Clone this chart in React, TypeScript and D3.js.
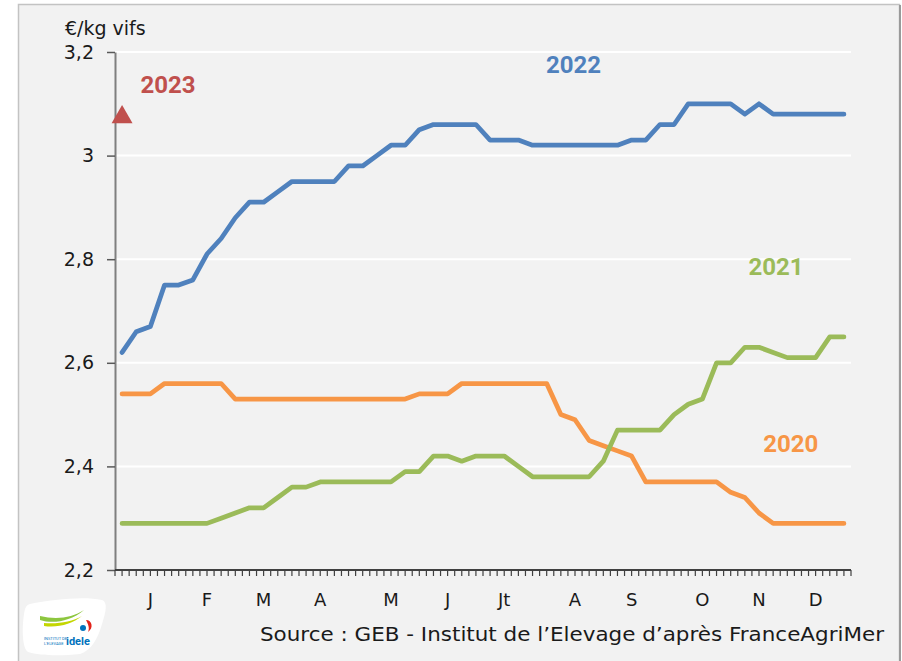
import { useRef, useEffect } from 'react';
import * as d3 from 'd3';

// weekly categories (weeks of the year)
const weeks = d3.range(1, 53);

const prices2022 = [
    2.62, 2.66, 2.67, 2.75, 2.75, 2.76, 2.81, 2.84, 2.88, 2.91,
    2.91, 2.93, 2.95, 2.95, 2.95, 2.95, 2.98, 2.98, 3.00, 3.02,
    3.02, 3.05, 3.06, 3.06, 3.06, 3.06, 3.03, 3.03, 3.03, 3.02,
    3.02, 3.02, 3.02, 3.02, 3.02, 3.02, 3.03, 3.03, 3.06, 3.06,
    3.10, 3.10, 3.10, 3.10, 3.08, 3.10, 3.08, 3.08, 3.08, 3.08,
    3.08, 3.08
];

const prices2021 = [
    2.29, 2.29, 2.29, 2.29, 2.29, 2.29, 2.29, 2.30, 2.31, 2.32,
    2.32, 2.34, 2.36, 2.36, 2.37, 2.37, 2.37, 2.37, 2.37, 2.37,
    2.39, 2.39, 2.42, 2.42, 2.41, 2.42, 2.42, 2.42, 2.40, 2.38,
    2.38, 2.38, 2.38, 2.38, 2.41, 2.47, 2.47, 2.47, 2.47, 2.50,
    2.52, 2.53, 2.60, 2.60, 2.63, 2.63, 2.62, 2.61, 2.61, 2.61,
    2.65, 2.65
];

const prices2020 = [
    2.54, 2.54, 2.54, 2.56, 2.56, 2.56, 2.56, 2.56, 2.53, 2.53,
    2.53, 2.53, 2.53, 2.53, 2.53, 2.53, 2.53, 2.53, 2.53, 2.53,
    2.53, 2.54, 2.54, 2.54, 2.56, 2.56, 2.56, 2.56, 2.56, 2.56,
    2.56, 2.50, 2.49, 2.45, 2.44, 2.43, 2.42, 2.37, 2.37, 2.37,
    2.37, 2.37, 2.37, 2.35, 2.34, 2.31, 2.29, 2.29, 2.29, 2.29,
    2.29, 2.29
];

const prices2023 = [3.08];

const monthLabels = ['J', 'F', 'M', 'A', 'M', 'J', 'Jt', 'A', 'S', 'O', 'N', 'D'];
const monthWeeks = [3, 7, 11, 15, 20, 24, 28, 33, 37, 42, 46, 50];

const yTicks = [2.2, 2.4, 2.6, 2.8, 3.0, 3.2];

const W = 902;
const H = 661;
const margin = { top: 52, right: 51, bottom: 91, left: 115 };
const width = W - margin.left - margin.right;
const height = H - margin.top - margin.bottom;

const FONT = '"DejaVu Sans", sans-serif';
const BOLD = 'Roboto, "Liberation Sans", sans-serif';

const App = () => {
    const ref = useRef<SVGSVGElement | null>(null);

    useEffect(() => {
        if (!ref.current) return;
        const root = d3.select(ref.current);
        root.selectAll('*').remove();

        // frame
        root.append('rect')
            .attr('x', 18.5).attr('y', 4.5)
            .attr('width', 881).attr('height', 700)
            .attr('fill', '#F2F2F2')
            .attr('stroke', '#C3C3C3')
            .attr('stroke-width', 1.5);
        root.append('line')
            .attr('x1', 900).attr('x2', 900).attr('y1', 5).attr('y2', H)
            .attr('stroke', '#9A9A9A').attr('stroke-width', 2);

        const svg = root.append('g')
            .attr('transform', `translate(${margin.left}, ${margin.top})`);

        const x = d3.scaleBand<number>().domain(weeks).range([0, width]).padding(0);
        const xc = (w: number) => (x(w) as number) + x.bandwidth() / 2;
        const y = d3.scaleLinear().domain([2.2, 3.2]).range([height, 0]);

        // grid
        svg.append('g')
            .selectAll('line')
            .data(yTicks.filter(t => t > 2.2))
            .enter().append('line')
            .attr('x1', 0).attr('x2', width)
            .attr('y1', d => y(d)).attr('y2', d => y(d))
            .attr('stroke', '#FFFFFF').attr('stroke-width', 2);

        // y axis (excel "general" format, comma decimal)
        const yAxis = d3.axisLeft(y)
            .tickValues(yTicks)
            .tickSize(8)
            .tickSizeOuter(0)
            .tickPadding(13)
            .tickFormat(d => String(+(d as number).toFixed(1)).replace('.', ','));
        const yg = svg.append('g').call(yAxis);
        yg.select('.domain').attr('stroke', '#7F7F7F').attr('stroke-width', 2);
        yg.selectAll('.tick line').attr('stroke', '#595959').attr('stroke-width', 1.5);
        yg.selectAll('.tick text')
            .attr('fill', '#1A1A1A')
            .style('font-family', FONT)
            .style('font-size', '19px');

        // x axis
        const xg = svg.append('g').attr('transform', `translate(0, ${height})`);
        const tickPos: number[] = [];
        weeks.forEach(w => {
            tickPos.push(x(w) as number);
            tickPos.push(xc(w));
        });
        tickPos.push(width);
        xg.selectAll('line.tk')
            .data(tickPos)
            .enter().append('line')
            .attr('class', 'tk')
            .attr('x1', d => d).attr('x2', d => d)
            .attr('y1', 0).attr('y2', 6)
            .attr('stroke', '#404040').attr('stroke-width', 1.2);
        xg.append('line')
            .attr('x1', 0).attr('x2', width)
            .attr('y1', 0).attr('y2', 0)
            .attr('stroke', '#404040').attr('stroke-width', 1.8);
        xg.selectAll('text')
            .data(monthLabels)
            .enter().append('text')
            .attr('x', (d, i) => xc(monthWeeks[i]))
            .attr('y', 36)
            .attr('text-anchor', 'middle')
            .attr('fill', '#1A1A1A')
            .style('font-family', FONT)
            .style('font-size', '18px')
            .text(d => d);

        // series
        const line = d3.line<number>()
            .x((d, i) => xc(weeks[i]))
            .y(d => y(d));

        const series = [
            { values: prices2020, color: '#F79646' },
            { values: prices2021, color: '#9BBB59' },
            { values: prices2022, color: '#4F81BD' },
        ];
        series.forEach(s => {
            svg.append('path')
                .datum(s.values)
                .attr('d', line)
                .attr('fill', 'none')
                .attr('stroke', s.color)
                .attr('stroke-width', 4.75)
                .attr('stroke-linejoin', 'round')
                .attr('stroke-linecap', 'round');
        });

        // 2023 marker
        const triSize = 190;
        const triH = Math.sqrt(triSize / (3 * Math.sqrt(3))) * 3;
        svg.selectAll('path.m2023')
            .data(prices2023)
            .enter().append('path')
            .attr('class', 'm2023')
            .attr('d', d3.symbol().type(d3.symbolTriangle).size(triSize)())
            .attr('transform', (d, i) => `translate(${xc(weeks[i])}, ${y(d) + triH / 6})`)
            .attr('fill', '#C0504D');

        // year labels
        const labels = [
            { text: '2023', color: '#C0504D', w: 4.25, v: 3.12 },
            { text: '2022', color: '#4F81BD', w: 32.9, v: 3.16 },
            { text: '2021', color: '#9BBB59', w: 47.2, v: 2.77 },
            { text: '2020', color: '#F79646', w: 48.25, v: 2.427 },
        ];
        svg.selectAll('text.yr')
            .data(labels)
            .enter().append('text')
            .attr('class', 'yr')
            .attr('x', d => (x(1) as number) + x.step() * (d.w - 1) + x.bandwidth() / 2)
            .attr('y', d => y(d.v))
            .attr('text-anchor', 'middle')
            .attr('fill', d => d.color)
            .style('font-family', BOLD)
            .style('font-weight', 'bold')
            .style('font-size', '24px')
            .text(d => d.text);

        // unit
        root.append('text')
            .attr('x', 65).attr('y', 35)
            .attr('fill', '#1A1A1A')
            .style('font-family', FONT)
            .style('font-size', '19px')
            .text('€/kg vifs');

        // source
        root.append('text')
            .attr('x', 260).attr('y', 641)
            .attr('fill', '#1A1A1A')
            .attr('textLength', 624)
            .attr('lengthAdjust', 'spacingAndGlyphs')
            .style('font-family', FONT)
            .style('font-size', '19px')
            .text('Source : GEB - Institut de l\u2019Elevage d\u2019apr\u00e8s FranceAgriMer');

        // logo
        const logo = root.append('g').attr('transform', 'translate(22, 598)');
        logo.append('path')
            .attr('d', 'M8,6 C30,2 60,-2 80,2 C86,4 84,14 80,26 C76,40 70,52 58,56 C40,58 18,58 6,54 C0,50 0,30 2,16 C3,10 4,7 8,6 Z')
            .attr('fill', '#FFFFFF');
        logo.append('path')
            .attr('d', 'M18,22 C30,26 48,24 62,12 C50,20 34,22 18,18 Z')
            .attr('fill', '#8DC63F');
        logo.append('path')
            .attr('d', 'M22,28 C36,30 50,26 60,18 C50,24 36,26 22,25 Z')
            .attr('fill', '#C4D600');
        logo.append('path')
            .attr('d', 'M64,22 C70,22 72,30 66,34 C68,30 66,26 64,22 Z')
            .attr('fill', '#E2231A');
        logo.append('circle').attr('cx', 61).attr('cy', 30).attr('r', 3).attr('fill', '#0072BC');
        logo.append('text')
            .attr('x', 22).attr('y', 42)
            .attr('fill', '#0072BC')
            .style('font-family', 'Roboto, sans-serif')
            .style('font-size', '4px')
            .text('INSTITUT DE');
        logo.append('text')
            .attr('x', 22).attr('y', 47)
            .attr('fill', '#0072BC')
            .style('font-family', 'Roboto, sans-serif')
            .style('font-size', '4px')
            .text("L'ELEVAGE");
        logo.append('text')
            .attr('x', 44).attr('y', 47)
            .attr('fill', '#0072BC')
            .style('font-family', 'Roboto, sans-serif')
            .style('font-weight', 'bold')
            .style('font-size', '11px')
            .text('idele');
    }, []);

    return (
        <svg
            ref={ref}
            width={W}
            height={H}
            style={{ position: 'absolute', left: 0, top: 0, background: '#FFFFFF' }}
        ></svg>
    );
};

export default App;
